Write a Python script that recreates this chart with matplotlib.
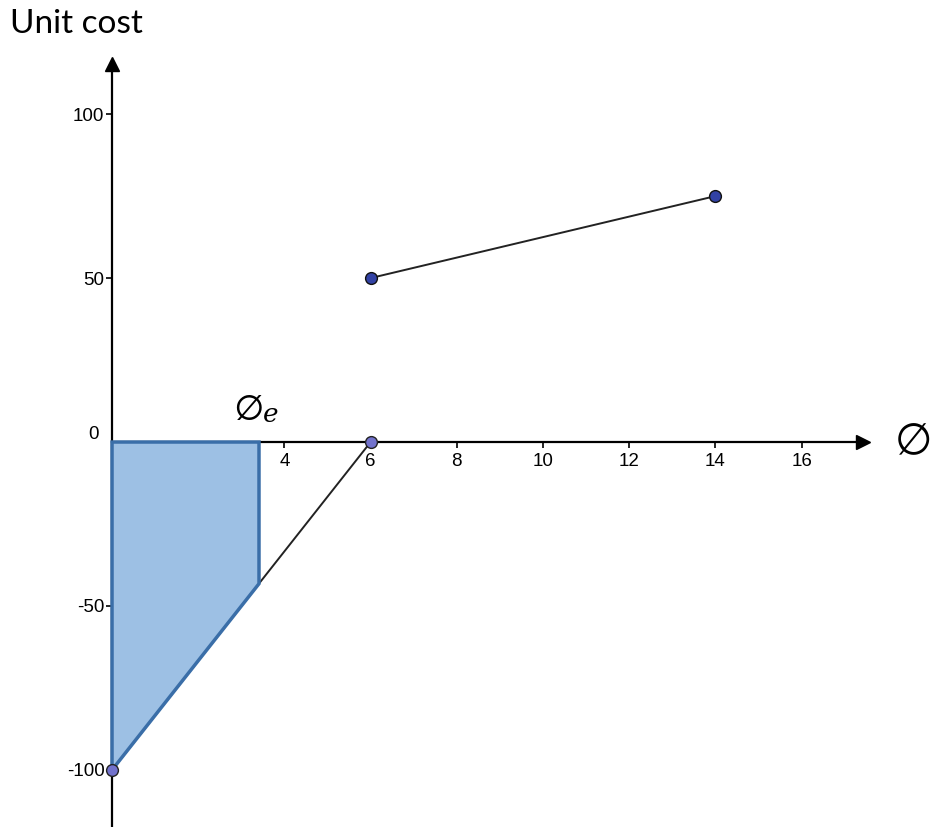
import matplotlib
matplotlib.use("Agg")
import matplotlib.pyplot as plt
import matplotlib.transforms as mtransforms

# Data
upper_x = [6, 14]
upper_y = [50, 75]
lower_x = [0, 6]
lower_y = [-100, 0]
phi_e = 3.41
region_x = [0, phi_e, phi_e, 0]
region_y = [0, 0, -43.2, -100]
x_ticks = [4, 6, 8, 10, 12, 14, 16]
y_ticks = [-100, -50, 0, 50, 100]

fig = plt.figure(figsize=(9.37, 8.27), dpi=100)
ax = fig.add_axes([0, 0, 1, 1])
ax.set_xlim(-2.599, 19.14)
ax.set_ylim(-117.4, 134.8)
ax.patch.set_alpha(0)

for s in ["top", "right"]:
    ax.spines[s].set_visible(False)
ax.spines["left"].set_position(("data", 0))
ax.spines["bottom"].set_position(("data", 0))
ax.spines["left"].set_bounds(-117.4, 115)
ax.spines["bottom"].set_bounds(0, 17.4)
for s in ["left", "bottom"]:
    ax.spines[s].set_linewidth(1.6)
    ax.spines[s].set_color("black")

ax.set_xticks(x_ticks)
ax.set_yticks(y_ticks)
ax.set_xticklabels([str(v) for v in x_ticks])
ax.set_yticklabels([str(v) for v in y_ticks])
ax.tick_params(axis="x", direction="out", length=4, width=1.2, pad=4,
               labelsize=13.5, labelfontfamily="Liberation Sans")
ax.tick_params(axis="y", direction="out", length=4, width=1.2, pad=1.5,
               labelsize=13.5, labelfontfamily="Liberation Sans")

# move the "0" label up/left as in the reference, hide its tick mark
fig.canvas.draw()
for tick, v in zip(ax.yaxis.get_major_ticks(), y_ticks):
    if v == 0:
        tick.tick1line.set_visible(False)
        lbl = tick.label1
        lbl.set_transform(lbl.get_transform() +
                          mtransforms.ScaledTranslation(-0.06, 0.1, fig.dpi_scale_trans))

# arrows
ax.plot(17.42, 0, marker=">", ms=10, color="black", clip_on=False)
ax.plot(0, 115.2, marker="^", ms=10, color="black", clip_on=False)

# lines
ax.plot(upper_x, upper_y, color="#222222", lw=1.4, zorder=3)
ax.plot(lower_x, lower_y, color="#222222", lw=1.4, zorder=3)

# shaded region
ax.fill(region_x, region_y, facecolor="#9dc0e4", edgecolor="#3a6ea8",
        lw=2.5, zorder=4)

# points
ax.plot(upper_x, upper_y, "o", ms=8.5, mfc="#3242a4", mec="#111111",
        mew=1.0, zorder=5, clip_on=False)
ax.plot(lower_x, lower_y, "o", ms=8.5, mfc="#7272cc", mec="#222222",
        mew=1.0, zorder=5, clip_on=False)

# labels
fig.text(10 / 937, 1 - 33 / 827, "Unit cost", fontsize=24,
         family="Lato", va="baseline", ha="left")
ax.text(18.6, 0, "∅", fontsize=31, family="DejaVu Sans",
        ha="center", va="center")
plt.rcParams["mathtext.fontset"] = "dejavuserif"
ax.text(phi_e - 0.05, 5.5, r"$∅_e$", fontsize=27, ha="center", va="bottom")

fig.savefig("out.png", dpi=100)
